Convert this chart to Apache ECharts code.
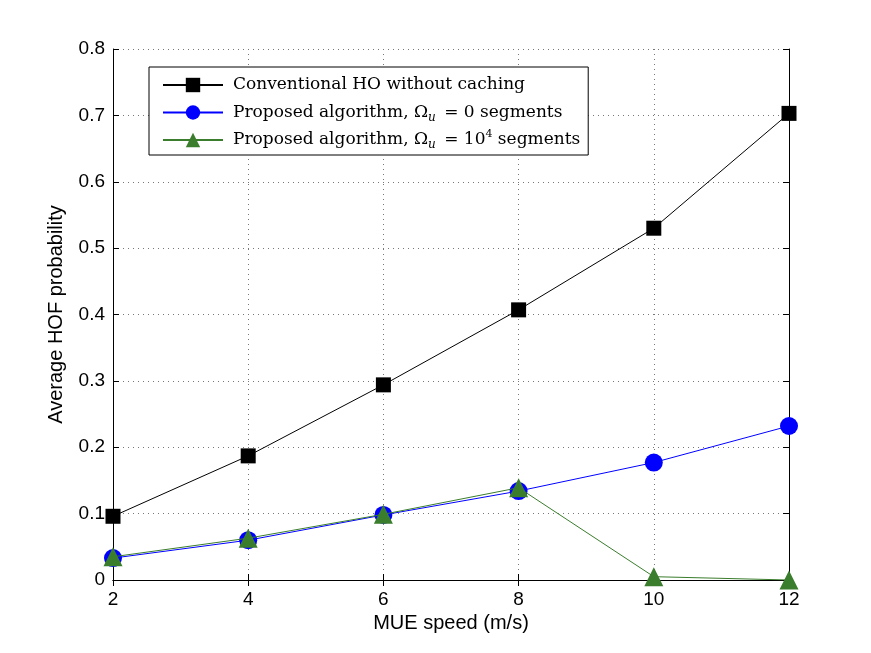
<!DOCTYPE html>
<html>
<head>
<meta charset="utf-8">
<script src="https://cdn.jsdelivr.net/npm/echarts@6/dist/echarts.min.js"></script>
<style>
  html, body { margin: 0; padding: 0; background: #fff; }
  #chart { width: 871px; height: 653px; }
</style>
</head>
<body>
<div id="chart"></div>
<script>
// MUE speed (m/s) on x, average HOF probability per scheme on y
const speeds = [2, 4, 6, 8, 10, 12];
const conventional = [0.096, 0.187, 0.294, 0.407, 0.530, 0.703];
const proposedZero = [0.033, 0.060, 0.098, 0.134, 0.177, 0.232];
const proposedCache = [0.035, 0.063, 0.099, 0.139, 0.005, 0.0];

const NAMES = [
  "Conventional HO without caching",
  "Proposed algorithm, zero",
  "Proposed algorithm, cache",
];

const pairs = (ys) => speeds.map((x, i) => [x, ys[i]]);
const AXIS_FONT = "Liberation Sans, Arial, sans-serif";
const SERIF = "DejaVu Serif, Liberation Serif, serif";

const chart = echarts.init(document.getElementById("chart"));

// top / right edges of the MATLAB-style box, ticks only
const frameAxis = {
  axisLine: { show: true, lineStyle: { color: "#000", width: 1 } },
  axisTick: { show: true, inside: true, length: 6, lineStyle: { color: "#000" } },
  axisLabel: { show: false },
  splitLine: { show: false },
};
const grid = { show: true, lineStyle: { color: "#777", type: [1, 4], width: 1 } };

chart.setOption({
  animation: false,
  grid: { left: 113, right: 82, top: 49, bottom: 73 },
  legend: {
    left: 149, top: 67,
    orient: "vertical",
    backgroundColor: "#fff",
    borderColor: "#000",
    borderWidth: 1,
    padding: [7, 8, 4, 13],
    itemWidth: 60,
    itemHeight: 18,
    itemGap: 5.5,
    data: NAMES,
    formatter: (name) => {
      if (name === NAMES[0]) return name;
      if (name === NAMES[1]) return "Proposed algorithm, Ω{sub|u} = 0 segments";
      return "Proposed algorithm, Ω{sub|u} = 10{sup|4} segments";
    },
    textStyle: {
      fontFamily: SERIF, fontSize: 17, color: "#000", lineHeight: 22,
      padding: [0, 0, 0, 5],
      rich: {
        sub: { fontFamily: SERIF, fontStyle: "italic", fontSize: 12, lineHeight: 22,
          verticalAlign: "bottom", padding: [0, 3, 0, 0], color: "#000" },
        sup: { fontFamily: SERIF, fontSize: 11, lineHeight: 22,
          verticalAlign: "top", color: "#000" },
      },
    },
  },
  xAxis: [
    {
      type: "value", min: 2, max: 12, interval: 2,
      name: "MUE speed (m/s)", nameLocation: "middle", nameGap: 31,
      nameTextStyle: { fontFamily: AXIS_FONT, fontSize: 20, color: "#000" },
      axisLine: { lineStyle: { color: "#000" } },
      axisTick: { inside: true, length: 6, lineStyle: { color: "#000" } },
      axisLabel: { fontFamily: AXIS_FONT, fontSize: 19, color: "#000", margin: 10 },
      splitLine: grid,
    },
    Object.assign({ type: "value", min: 2, max: 12, interval: 2, position: "top" }, frameAxis),
  ],
  yAxis: [
    {
      type: "value", min: 0, max: 0.8, interval: 0.1,
      name: "Average HOF probability", nameLocation: "middle", nameGap: 47,
      nameTextStyle: { fontFamily: AXIS_FONT, fontSize: 20, color: "#000" },
      axisLine: { lineStyle: { color: "#000" } },
      axisTick: { inside: true, length: 6, lineStyle: { color: "#000" } },
      axisLabel: { fontFamily: AXIS_FONT, fontSize: 19, color: "#000", margin: 8,
        formatter: (v) => (v === 0 ? "0" : v.toFixed(1)) },
      splitLine: grid,
    },
    Object.assign({ type: "value", min: 0, max: 0.8, interval: 0.1, position: "right" }, frameAxis),
  ],
  series: [
    {
      name: NAMES[0], type: "line", data: pairs(conventional),
      color: "#000", symbol: "rect", symbolSize: 15,
      lineStyle: { width: 1 }, z: 3,
    },
    {
      name: NAMES[1], type: "line", data: pairs(proposedZero),
      color: "#0000ff", symbol: "circle", symbolSize: 18,
      lineStyle: { width: 1 }, z: 4,
    },
    {
      name: NAMES[2], type: "line", data: pairs(proposedCache),
      color: "#3a7d2c", symbol: "triangle", symbolSize: 19,
      lineStyle: { width: 1 }, z: 5,
    },
  ],
});
</script>
</body>
</html>
